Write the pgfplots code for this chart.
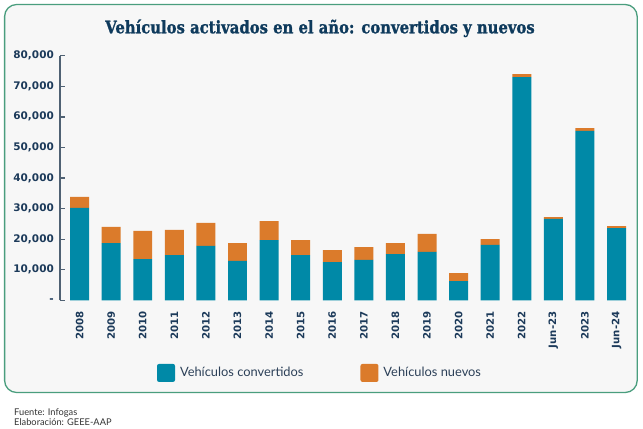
\documentclass[border=0pt]{standalone}
\usepackage{fontspec}
\setmainfont{Lato}
\newfontfamily\tickfont{DejaVu Sans}
\newfontfamily\titlefont{DejaVu Serif}[FakeStretch=0.86, BoldFeatures={FakeBold=1.2}]
\usepackage{pgfplots}
\usepackage{pgfplotstable}
\pgfplotsset{compat=1.18}
\definecolor{teal1}{HTML}{0089A7}
\definecolor{orange1}{HTML}{DB7B2B}
\definecolor{navy}{HTML}{0E3A5C}
\definecolor{tickc}{HTML}{1C3A5A}
\definecolor{axisc}{HTML}{4F6173}
\definecolor{framec}{HTML}{4A9E7E}
\definecolor{bgc}{HTML}{F7F7F7}
\definecolor{legc}{HTML}{2C4058}
\definecolor{footc}{HTML}{333333}

\pgfplotstableread{
idx conv nuevo
0 30200 3600
1 18700 5300
2 13500 9200
3 14800 8200
4 17800 7500
5 12900 5800
6 19700 6200
7 14800 4900
8 12500 3900
9 13200 4200
10 15100 3600
11 15800 5900
12 6300 2600
13 18100 1900
14 73000 1000
15 26600 600
16 55400 900
17 23600 700
}\datatable

\begin{document}
\begin{tikzpicture}
\useasboundingbox (0,0) rectangle (643bp,429bp);
\fill[white] (0,0) rectangle (643bp,429bp);
\draw[framec, fill=bgc, line width=1.3bp, rounded corners=12bp] (4.6bp,36.5bp) rectangle (637.2bp,424.5bp);
\node[anchor=base, font=\titlefont\bfseries\fontsize{17.3}{20}\selectfont, text=navy, inner sep=0pt] at (320bp,395.7bp) {Vehículos activados en el año: convertidos y nuevos};
\node[anchor=base west, font=\fontsize{9.3}{10}\selectfont, text=footc, inner sep=0pt] at (14bp,14bp) {Fuente: Infogas};
\node[anchor=base west, font=\fontsize{9.3}{10}\selectfont, text=footc, inner sep=0pt] at (14bp,4bp) {Elaboración: GEEE-AAP};
\begin{axis}[
  at={(60bp,128.7bp)}, anchor=south west,
  scale only axis, width=575.5bp, height=244.6bp,
  ybar stacked, bar width=0.6,
  xmin=-0.62, xmax=17.6, ymin=0, ymax=80000,
  axis lines*=left,
  x axis line style={draw=none},
  y axis line style={axisc, line width=1.3bp},
  xtick={0,...,17},
  xticklabels={2008,2009,2010,2011,2012,2013,2014,2015,2016,2017,2018,2019,2020,2021,2022,Jun-23,2023,Jun-24},
  xtick style={draw=none},
  ytick={0,10000,20000,30000,40000,50000,60000,70000,80000},
  yticklabels={-,{10,000},{20,000},{30,000},{40,000},{50,000},{60,000},{70,000},{80,000}},
  scaled y ticks=false,
  ytick style={axisc, line width=1.3bp},
  tick align=inside,
  ytick pos=left,
  major tick length=5bp,
  yticklabel style={font=\tickfont\bfseries\fontsize{10.5}{12}\selectfont, text=tickc, inner sep=0pt, anchor=east, xshift=-6bp},
  xticklabel style={font=\tickfont\bfseries\fontsize{10.2}{12}\selectfont, text=tickc, inner sep=0pt, rotate=90, anchor=east},
  xticklabel shift=11bp,
  legend style={at={(0.1686,-0.297)}, anchor=west, draw=none, fill=none, inner sep=0pt, outer sep=0pt, font=\fontsize{12.9}{15}\selectfont, text=legc, /tikz/every odd column/.append style={column sep=3bp}, /tikz/every even column/.append style={column sep=55bp}},
  legend columns=2,
  legend cell align=left,
  legend image code/.code={\fill[#1, rounded corners=2bp] (0bp,-9bp) rectangle (18bp,9bp);},
]
\addplot[fill=teal1, draw=none] table[x=idx,y=conv]{\datatable};
\addplot[fill=orange1, draw=none] table[x=idx,y=nuevo]{\datatable};
\legend{Vehículos convertidos, Vehículos nuevos}
\end{axis}
\end{tikzpicture}
\end{document}
